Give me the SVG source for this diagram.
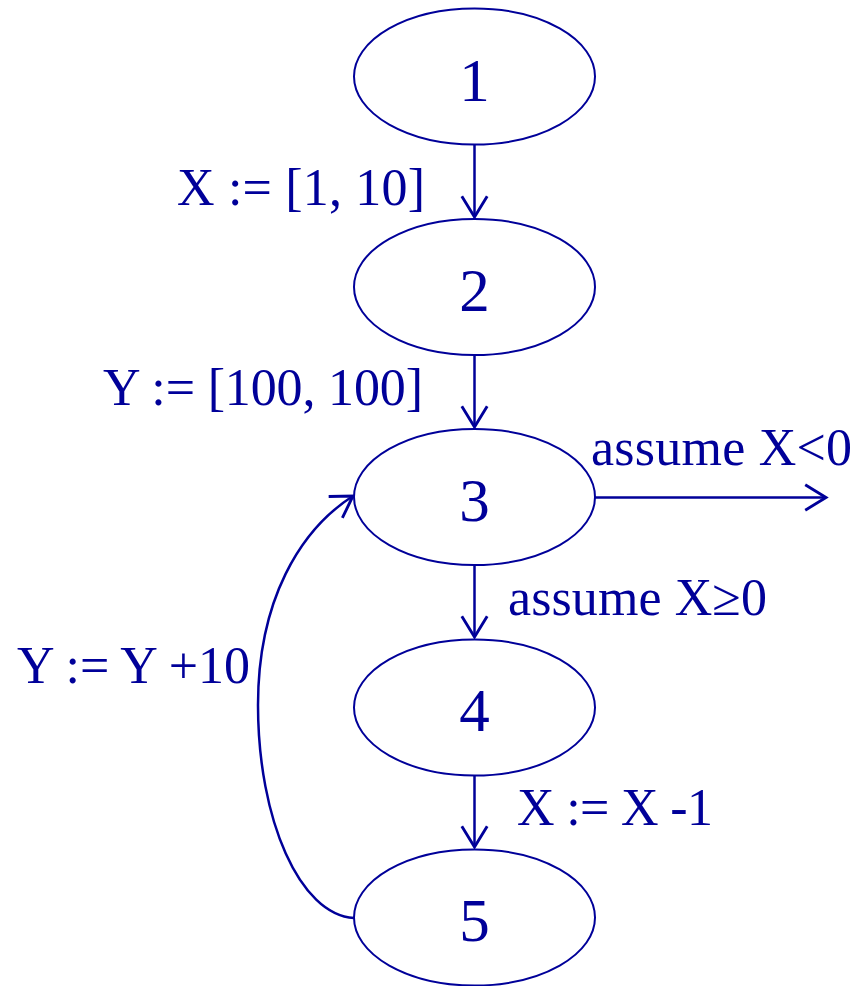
<svg xmlns="http://www.w3.org/2000/svg" width="858" height="986" viewBox="0 0 858 986">
<style>
.node{fill:#fff;stroke:#000099;stroke-width:2}
.num{font-family:"Liberation Serif","Times New Roman",serif;font-size:61px;fill:#000099;text-anchor:middle}
.lbl{font-family:"Liberation Serif","Times New Roman",serif;font-size:52px;fill:#000099}
.edge{fill:none;stroke:#000099;stroke-width:2.5}
</style>
<defs>
<marker id="arr" markerUnits="userSpaceOnUse" markerWidth="30" markerHeight="30" viewBox="-20 -13 22 26" refX="0" refY="0" orient="auto">
<path d="M-18,-11 L0,0 L-18,11" fill="none" stroke="#000099" stroke-width="2.5"/>
</marker>
</defs>
<rect width="858" height="986" fill="#fff"/>
<g id="connectors">
<path class="edge" d="M474.5,145 L474.5,217" marker-end="url(#arr)"/>
<path class="edge" d="M474.5,355 L474.5,427" marker-end="url(#arr)"/>
<path class="edge" d="M474.5,565 L474.5,637" marker-end="url(#arr)"/>
<path class="edge" d="M474.5,775 L474.5,847" marker-end="url(#arr)"/>
<path class="edge" d="M595,497.5 L826,497.5" marker-end="url(#arr)"/>
<path class="edge" d="M354,918 C300,915 258,820 258,705 C258,600 300,530 353,496" marker-end="url(#arr)"/>
<text class="lbl" x="177" y="205" textLength="248" lengthAdjust="spacing">X := [1, 10]</text>
<text class="lbl" x="103" y="405" textLength="320" lengthAdjust="spacing">Y := [100, 100]</text>
<text class="lbl" x="591" y="465" textLength="261" lengthAdjust="spacing">assume X&lt;0</text>
<text class="lbl" x="508" y="615" textLength="259" lengthAdjust="spacing">assume X≥0</text>
<text class="lbl" x="17" y="683" textLength="233" lengthAdjust="spacing">Y := Y +10</text>
<text class="lbl" x="517" y="825" textLength="196" lengthAdjust="spacing">X := X -1</text>
</g>
<g id="n1"><ellipse class="node" cx="474.5" cy="76.5" rx="120.5" ry="68"/><text class="num" x="474.5" y="101">1</text></g>
<g id="n2"><ellipse class="node" cx="474.5" cy="287" rx="120.5" ry="68"/><text class="num" x="474.5" y="311">2</text></g>
<g id="n3"><ellipse class="node" cx="474.5" cy="497" rx="120.5" ry="68"/><text class="num" x="474.5" y="521">3</text></g>
<g id="n4"><ellipse class="node" cx="474.5" cy="707.5" rx="120.5" ry="68"/><text class="num" x="474.5" y="731">4</text></g>
<g id="n5"><ellipse class="node" cx="474.5" cy="917.5" rx="120.5" ry="68"/><text class="num" x="474.5" y="941">5</text></g>
</svg>
